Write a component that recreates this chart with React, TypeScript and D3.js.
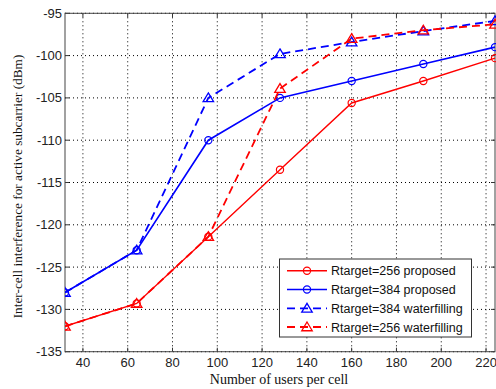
import React from "react";
import * as d3 from "d3";

const users = [32, 64, 96, 128, 160, 192, 224];
const red256Proposed = [-132, -129.3, -121.4, -113.5, -105.6, -103, -100.3];
const blue384Proposed = [-128, -123, -110, -105, -103, -101, -99];
const blue384Water = [-128, -123, -105, -99.8, -98.4, -97.1, -95.9];
const red256Water = [-132, -129.3, -121.4, -103.9, -98, -97, -96.3];
const xTicks = [40, 60, 80, 100, 120, 140, 160, 180, 200, 220];
const yTicks = [-95, -100, -105, -110, -115, -120, -125, -130, -135];
const legendLabels = [
  "Rtarget=256 proposed",
  "Rtarget=384 proposed",
  "Rtarget=384 waterfilling",
  "Rtarget=256 waterfilling",
];

const W = 496, H = 389;
const L = 65, R = 495, T = 13.3, B = 351.7;

export default function App() {
  const x = d3.scaleLinear().domain([32, 224]).range([L, R]);
  const y = d3.scaleLinear().domain([-135, -95]).range([B, T]);
  const line = (vals: number[]) =>
    d3.line<number>().x((_, i) => x(users[i])).y((v) => y(v))(vals) || "";

  const series = [
    { vals: red256Proposed, color: "#ff0000", dash: "", marker: "circle", w: 1.4 },
    { vals: blue384Proposed, color: "#0000ff", dash: "", marker: "circle", w: 1.6 },
    { vals: blue384Water, color: "#0000ff", dash: "8,5", marker: "tri", w: 1.8 },
    { vals: red256Water, color: "#ff0000", dash: "8,5", marker: "tri", w: 1.8 },
  ];

  const tri = (cx: number, cy: number, s = 5) =>
    `M${cx},${cy - s}L${cx + s * 1.05},${cy + s * 0.75}L${cx - s * 1.05},${cy + s * 0.75}Z`;

  const mark = (kind: string, cx: number, cy: number, color: string, key: string) =>
    kind === "circle" ? (
      <circle key={key} cx={cx} cy={cy} r={3.6} fill="none" stroke={color} strokeWidth={1.2} />
    ) : (
      <path key={key} d={tri(cx, cy)} fill="none" stroke={color} strokeWidth={1.3} />
    );

  const legX = 279.5, legY = 259, legW = 192, legH = 78;
  const legRowY = [270.7, 289.5, 308.3, 327];
  const sans = "Liberation Sans, Arial, sans-serif";
  const serif = "Liberation Serif, Times New Roman, serif";

  return (
    <svg width={W} height={H} style={{ position: "absolute", left: 0, top: 0, background: "#fff" }}>
      <rect x={0} y={0} width={W} height={H} fill="#fff" />
      <defs>
        <clipPath id="pa">
          <rect x={L} y={T - 8} width={R - L + 8} height={B - T + 16} />
        </clipPath>
      </defs>
      {/* grid */}
      {xTicks.map((t) => (
        <line key={"gx" + t} x1={x(t)} x2={x(t)} y1={T} y2={B} stroke="#000" strokeWidth={1} strokeDasharray="1,3" />
      ))}
      {yTicks.map((t) => (
        <line key={"gy" + t} x1={L} x2={R} y1={y(t)} y2={y(t)} stroke="#000" strokeWidth={1} strokeDasharray="1,3" />
      ))}
      {/* ticks */}
      {xTicks.map((t) => (
        <g key={"tx" + t}>
          <line x1={x(t)} x2={x(t)} y1={B} y2={B - 4} stroke="#333" />
          <line x1={x(t)} x2={x(t)} y1={T} y2={T + 4} stroke="#333" />
          <text x={x(t)} y={B + 15.5} textAnchor="middle" fontFamily={sans} fontSize={13} fill="#222">
            {t}
          </text>
        </g>
      ))}
      {yTicks.map((t) => (
        <g key={"ty" + t}>
          <line x1={L} x2={L + 4} y1={y(t)} y2={y(t)} stroke="#333" />
          <line x1={R} x2={R - 4} y1={y(t)} y2={y(t)} stroke="#333" />
          <text x={L - 3} y={y(t) + 4.5} textAnchor="end" fontFamily={sans} fontSize={13} fill="#222">
            {t}
          </text>
        </g>
      ))}
      <rect x={L} y={T} width={R - L} height={B - T} fill="none" stroke="#444" strokeWidth={1} />
      {/* series */}
      <g clipPath="url(#pa)">
        {series.map((s, si) => (
          <g key={"s" + si}>
            <path d={line(s.vals)} fill="none" stroke={s.color} strokeWidth={s.w} strokeDasharray={s.dash || undefined} />
            {s.vals.map((v, i) => mark(s.marker, x(users[i]), y(v), s.color, "m" + si + "-" + i))}
          </g>
        ))}
      </g>
      {/* legend */}
      <rect x={legX} y={legY} width={legW} height={legH} fill="#fff" stroke="#333" strokeWidth={1} />
      {series.map((s, i) => (
        <g key={"lg" + i}>
          <line x1={287} x2={327} y1={legRowY[i]} y2={legRowY[i]} stroke={s.color} strokeWidth={s.w} strokeDasharray={s.dash || undefined} />
          {mark(s.marker, 307, legRowY[i], s.color, "lm" + i)}
          <text x={331} y={legRowY[i] + 4.5} fontFamily={sans} fontSize={12.5} fill="#111">
            {legendLabels[i]}
          </text>
        </g>
      ))}
      {/* axis labels */}
      <text x={279} y={384} textAnchor="middle" fontFamily={serif} fontSize={14} fill="#111">
        Number of users per cell
      </text>
      <text
        transform={`translate(22,${(T + B) / 2 + 4}) rotate(-90)`}
        textAnchor="middle"
        fontFamily={serif}
        fontSize={13.3}
        fill="#111"
      >
        Inter-cell interference for active subcarrier (dBm)
      </text>
    </svg>
  );
}
